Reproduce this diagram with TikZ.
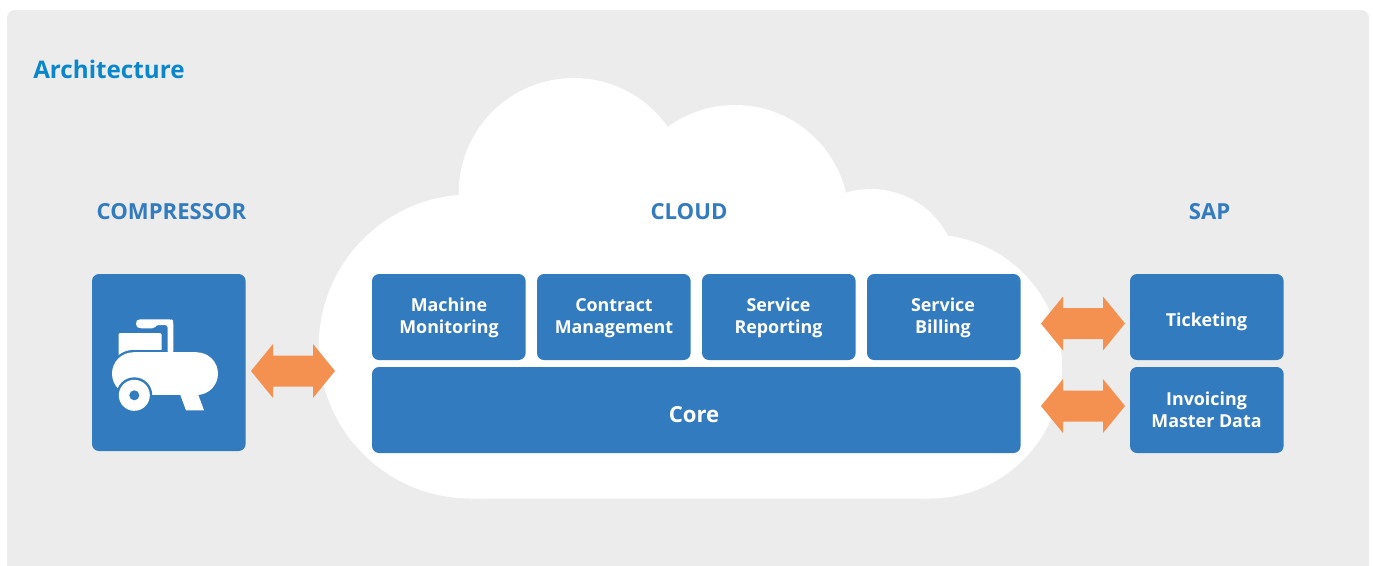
\documentclass[tikz,border=0pt]{standalone}
\usepackage{fontspec}
\setmainfont{Open Sans}
\definecolor{panelgrey}{HTML}{ECECEC}
\definecolor{boxblue}{HTML}{337BBF}
\definecolor{arrorange}{HTML}{F49150}
\definecolor{titleblue}{HTML}{0A86CC}
\tikzset{
  boxbase/.style={fill=boxblue,rounded corners=5.25pt,inner sep=0pt},
  smallbox/.style={boxbase,minimum width=115.2pt,minimum height=64.5pt},
  boxtext/.style={text=white,inner sep=0pt,align=center,font=\bfseries\fontsize{13.4}{16.5}\selectfont},
  heading/.style={text=boxblue,inner sep=0pt,font=\bfseries\fontsize{16.6}{19}\selectfont},
  dblarrow/.pic={\fill[arrorange] (-42,0)--(-20,-27)--(-20,-15.5)--(20,-15.5)--(20,-27)--(42,0)--(20,27)--(20,15.5)--(-20,15.5)--(-20,27)--cycle;}
}
\begin{document}
\begin{tikzpicture}[x=0.75pt,y=-0.75pt]
\useasboundingbox (0,0) rectangle (1373,565);
\fill[panelgrey,rounded corners=6pt] (7,10) rectangle (1369,590);
% cloud
\fill[white] (470.7,346.5) circle[radius=152];
\fill[white] (573.7,193) circle[radius=115];
\fill[white] (735,219) circle[radius=114];
\fill[white] (871,275.7) circle[radius=86.7];
\fill[white] (930,366.5) circle[radius=132];
\fill[white] (459.7,195)--(573.7,193)--(667,127)--(735,219)--(847,193)--(871,275.7)--(947,235)--(930,366.5)--(930,498.5)--(470.7,498.5)--(470.7,346.5)--cycle;
% texts
\node[text=titleblue,inner sep=0pt,font=\bfseries\fontsize{18.15}{22}\selectfont,anchor=west] (title) at (33,69) {Architecture};
\node[heading] (hcomp) at (171.5,212) {COMPRESSOR};
\node[heading] (hcloud) at (689,212) {CLOUD};
\node[heading] (hsap) at (1209.5,212) {SAP};
% boxes
\node[boxbase,minimum width=115.2pt,minimum height=132.75pt] (comp) at (168.8,362.5) {};
\node[smallbox] (mm) at (448.8,317) {};
\node[smallbox] (cm) at (613.8,317) {};
\node[smallbox] (sr) at (778.8,317) {};
\node[smallbox] (sb) at (943.8,317) {};
\node[boxbase,minimum width=486.4pt,minimum height=64.5pt] (core) at (696.3,410) {};
\node[smallbox] (tk) at (1206.8,317) {};
\node[smallbox] (inv) at (1206.8,410) {};
\node[boxtext] (mmt) at (449,318) {Machine\\Monitoring};
\node[boxtext] (cmt) at (614,318) {Contract\\Management};
\node[boxtext] (srt) at (778.5,318) {Service\\Reporting};
\node[boxtext] (sbt) at (943,318) {Service\\Billing};
\node[text=white,inner sep=0pt,font=\bfseries\fontsize{16.6}{19}\selectfont] (coret) at (694,414.5) {Core};
\node[boxtext] (tkt) at (1206.5,322.3) {Ticketing};
\node[boxtext] (invt) at (1206.5,410) {Invoicing\\Master Data};
% icon
\fill[white,rounded corners=1pt] (118.5,333) rectangle (161.5,358);
\fill[boxblue] (133.35,373.65) circle[radius=23.7];
\fill[boxblue] (196.65,373.65) circle[radius=23.7];
\fill[boxblue] (133.35,349.95) rectangle (196.65,397.35);
\fill[white] (133.35,373.65) circle[radius=21.35];
\fill[white] (196.65,373.65) circle[radius=21.35];
\fill[white] (133.35,352.3) rectangle (196.65,395);
\fill[white] (180,394)--(186,410.3)--(204,410.3)--(198,394)--cycle;
\fill[white,rounded corners=2pt] (167.7,354)--(167.7,325)--(156,325)--(154.5,328.3)--(139,328.3)--(136,326)--(136,322)--(138,319.3)--(171.7,319.3)--(173.3,321)--(173.3,354)--cycle;
\fill[boxblue] (134.3,395.3) circle[radius=18];
\fill[white] (134.3,395.3) circle[radius=15.5];
\fill[boxblue] (134.3,395.3) circle[radius=5];
% arrows
\pic at (293,371) {dblarrow};
\pic at (1083,323.5) {dblarrow};
\pic at (1083,406) {dblarrow};
\end{tikzpicture}
\end{document}
